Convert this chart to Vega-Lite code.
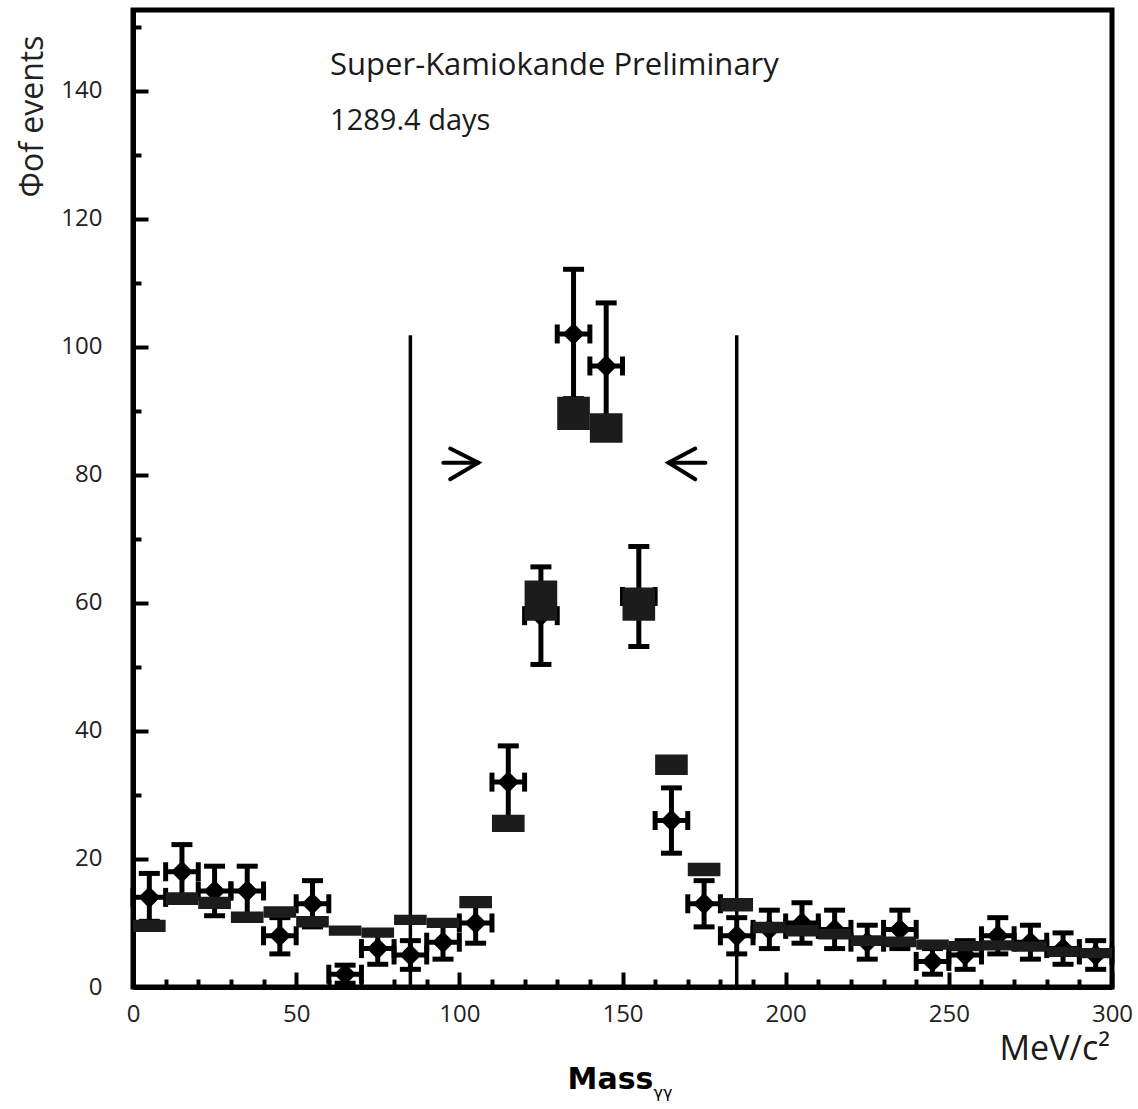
{
  "$schema": "https://vega.github.io/schema/vega-lite/v6.json",
  "width": 979,
  "height": 977,
  "autosize": "none",
  "padding": {"left": 133, "top": 10, "right": 26, "bottom": 122},
  "background": "white",
  "config": {
    "view": {"stroke": "black", "strokeWidth": 5},
    "font": "Open Sans",
    "axis": {"labelOverlap": false, "labelBound": false}
  },
  "datasets": {
    "obs": [
      {"m": 5, "m_lo": 0, "m_hi": 10, "n": 14, "lo": 10.26, "hi": 17.74},
      {"m": 15, "m_lo": 10, "m_hi": 20, "n": 18, "lo": 13.76, "hi": 22.24},
      {"m": 25, "m_lo": 20, "m_hi": 30, "n": 15, "lo": 11.13, "hi": 18.87},
      {"m": 35, "m_lo": 30, "m_hi": 40, "n": 15, "lo": 11.13, "hi": 18.87},
      {"m": 45, "m_lo": 40, "m_hi": 50, "n": 8, "lo": 5.17, "hi": 10.83},
      {"m": 55, "m_lo": 50, "m_hi": 60, "n": 13, "lo": 9.39, "hi": 16.61},
      {"m": 65, "m_lo": 60, "m_hi": 70, "n": 2, "lo": 0.59, "hi": 3.41},
      {"m": 75, "m_lo": 70, "m_hi": 80, "n": 6, "lo": 3.55, "hi": 8.45},
      {"m": 85, "m_lo": 80, "m_hi": 90, "n": 5, "lo": 2.76, "hi": 7.24},
      {"m": 95, "m_lo": 90, "m_hi": 100, "n": 7, "lo": 4.35, "hi": 9.65},
      {"m": 105, "m_lo": 100, "m_hi": 110, "n": 10, "lo": 6.84, "hi": 13.16},
      {"m": 115, "m_lo": 110, "m_hi": 120, "n": 32, "lo": 26.34, "hi": 37.66},
      {"m": 125, "m_lo": 120, "m_hi": 130, "n": 58, "lo": 50.38, "hi": 65.62},
      {"m": 135, "m_lo": 130, "m_hi": 140, "n": 102, "lo": 91.9, "hi": 112.1},
      {"m": 145, "m_lo": 140, "m_hi": 150, "n": 97, "lo": 87.15, "hi": 106.85},
      {"m": 155, "m_lo": 150, "m_hi": 160, "n": 61, "lo": 53.19, "hi": 68.81},
      {"m": 165, "m_lo": 160, "m_hi": 170, "n": 26, "lo": 20.9, "hi": 31.1},
      {"m": 175, "m_lo": 170, "m_hi": 180, "n": 13, "lo": 9.39, "hi": 16.61},
      {"m": 185, "m_lo": 180, "m_hi": 190, "n": 8, "lo": 5.17, "hi": 10.83},
      {"m": 195, "m_lo": 190, "m_hi": 200, "n": 9, "lo": 6, "hi": 12},
      {"m": 205, "m_lo": 200, "m_hi": 210, "n": 10, "lo": 6.84, "hi": 13.16},
      {"m": 215, "m_lo": 210, "m_hi": 220, "n": 9, "lo": 6, "hi": 12},
      {"m": 225, "m_lo": 220, "m_hi": 230, "n": 7, "lo": 4.35, "hi": 9.65},
      {"m": 235, "m_lo": 230, "m_hi": 240, "n": 9, "lo": 6, "hi": 12},
      {"m": 245, "m_lo": 240, "m_hi": 250, "n": 4, "lo": 2, "hi": 6},
      {"m": 255, "m_lo": 250, "m_hi": 260, "n": 5, "lo": 2.76, "hi": 7.24},
      {"m": 265, "m_lo": 260, "m_hi": 270, "n": 8, "lo": 5.17, "hi": 10.83},
      {"m": 275, "m_lo": 270, "m_hi": 280, "n": 7, "lo": 4.35, "hi": 9.65},
      {"m": 285, "m_lo": 280, "m_hi": 290, "n": 6, "lo": 3.55, "hi": 8.45},
      {"m": 295, "m_lo": 290, "m_hi": 300, "n": 5, "lo": 2.76, "hi": 7.24}
    ],
    "mc": [
      {"m_lo": 0, "m_hi": 10, "lo": 8.6, "hi": 10.5},
      {"m_lo": 10, "m_hi": 20, "lo": 12.8, "hi": 14.8},
      {"m_lo": 20, "m_hi": 30, "lo": 12.2, "hi": 14.1},
      {"m_lo": 30, "m_hi": 40, "lo": 10.0, "hi": 11.8},
      {"m_lo": 40, "m_hi": 50, "lo": 10.8, "hi": 12.6},
      {"m_lo": 50, "m_hi": 60, "lo": 9.3, "hi": 11.1},
      {"m_lo": 60, "m_hi": 70, "lo": 8.0, "hi": 9.6},
      {"m_lo": 70, "m_hi": 80, "lo": 7.7, "hi": 9.3},
      {"m_lo": 80, "m_hi": 90, "lo": 9.7, "hi": 11.3},
      {"m_lo": 90, "m_hi": 100, "lo": 9.2, "hi": 10.8},
      {"m_lo": 100, "m_hi": 110, "lo": 12.3, "hi": 14.2},
      {"m_lo": 110, "m_hi": 120, "lo": 24.2, "hi": 26.9},
      {"m_lo": 120, "m_hi": 130, "lo": 57.2, "hi": 63.5},
      {"m_lo": 130, "m_hi": 140, "lo": 87.0, "hi": 92.2},
      {"m_lo": 140, "m_hi": 150, "lo": 85.0, "hi": 89.6},
      {"m_lo": 150, "m_hi": 160, "lo": 57.2, "hi": 62.4},
      {"m_lo": 160, "m_hi": 170, "lo": 33.1, "hi": 36.3},
      {"m_lo": 170, "m_hi": 180, "lo": 17.3, "hi": 19.4},
      {"m_lo": 180, "m_hi": 190, "lo": 11.8, "hi": 13.9},
      {"m_lo": 190, "m_hi": 200, "lo": 8.4, "hi": 10.2},
      {"m_lo": 200, "m_hi": 210, "lo": 7.9, "hi": 9.7},
      {"m_lo": 210, "m_hi": 220, "lo": 7.4, "hi": 9.1},
      {"m_lo": 220, "m_hi": 230, "lo": 6.4, "hi": 8.1},
      {"m_lo": 230, "m_hi": 240, "lo": 6.2, "hi": 7.9},
      {"m_lo": 240, "m_hi": 250, "lo": 5.8, "hi": 7.4},
      {"m_lo": 250, "m_hi": 260, "lo": 5.6, "hi": 7.2},
      {"m_lo": 260, "m_hi": 270, "lo": 5.7, "hi": 7.3},
      {"m_lo": 270, "m_hi": 280, "lo": 5.5, "hi": 7.1},
      {"m_lo": 280, "m_hi": 290, "lo": 4.7, "hi": 6.3},
      {"m_lo": 290, "m_hi": 300, "lo": 4.5, "hi": 6.1}
    ],
    "cuts": [
      {"m": 85, "bottom": 0, "top": 101.8},
      {"m": 185, "bottom": 0, "top": 101.8}
    ],
    "arrows": [
      {"seg": "r_shaft", "o": 1, "m": 95.1, "n": 81.9},
      {"seg": "r_shaft", "o": 2, "m": 105.8, "n": 81.9},
      {"seg": "r_head", "o": 1, "m": 97.2, "n": 84.1},
      {"seg": "r_head", "o": 2, "m": 105.8, "n": 81.9},
      {"seg": "r_head", "o": 3, "m": 97.2, "n": 79.3},
      {"seg": "l_shaft", "o": 1, "m": 164.1, "n": 81.9},
      {"seg": "l_shaft", "o": 2, "m": 175.4, "n": 81.9},
      {"seg": "l_head", "o": 1, "m": 172.3, "n": 84.1},
      {"seg": "l_head", "o": 2, "m": 164.1, "n": 81.9},
      {"seg": "l_head", "o": 3, "m": 172.3, "n": 79.3}
    ],
    "minor": [
      {"m": 10}, {"m": 20}, {"m": 30}, {"m": 40}, {"m": 60}, {"m": 70}, {"m": 80}, {"m": 90},
      {"m": 110}, {"m": 120}, {"m": 130}, {"m": 140}, {"m": 160}, {"m": 170}, {"m": 180}, {"m": 190},
      {"m": 210}, {"m": 220}, {"m": 230}, {"m": 240}, {"m": 260}, {"m": 270}, {"m": 280}, {"m": 290}
    ]
  },
  "layer": [
    {
      "layer": [
        {
          "data": {"name": "cuts"},
          "mark": {"type": "rule", "color": "black", "strokeWidth": 3.5},
          "encoding": {
            "x": {
              "field": "m", "type": "quantitative",
              "scale": {"domain": [0, 300], "nice": false, "zero": false},
              "axis": {
                "title": "Mass",
                "values": [0, 50, 100, 150, 200, 250, 300],
                "tickSize": -15,
                "tickWidth": 4,
                "tickColor": "black",
                "domainColor": "black",
                "domainWidth": 5,
                "grid": false,
                "labelFont": "Open Sans",
                "labelFontSize": 24,
                "labelColor": "#222222",
                "labelFlush": false,
                "labelOverlap": false,
                "labelBaseline": "alphabetic",
                "labelPadding": 49,
                "titleFont": "DejaVu Sans",
                "titleFontWeight": "bold",
                "titleFontSize": 30,
                "titleColor": "black",
                "titleAlign": "center",
                "titleBaseline": "alphabetic",
                "titleX": 477,
                "titleY": 101
              }
            },
            "y": {
              "field": "bottom", "type": "quantitative",
              "scale": {"domain": [0, 152.6], "nice": false, "zero": false},
              "axis": {
                "title": "Φof events",
                "values": [0,5,10,15,20,25,30,35,40,45,50,55,60,65,70,75,80,85,90,95,100,105,110,115,120,125,130,135,140,145,150],
                "labelExpr": "datum.value % 20 === 0 ? datum.label : ''",
                "tickSize": {"condition": {"test": "datum.value % 20 === 0", "value": -15}, "value": -8},
                "tickWidth": 4,
                "tickColor": "black",
                "domainColor": "black",
                "domainWidth": 5,
                "grid": false,
                "labelFont": "Open Sans",
                "labelFontSize": 24,
                "labelColor": "#222222",
                "labelOverlap": false,
                "labelPadding": 46,
                "titleFont": "Open Sans",
                "titleFontWeight": "normal",
                "titleFontSize": 32,
                "titleColor": "#222222",
                "titleAngle": 270,
                "titleAlign": "right",
                "titleBaseline": "middle",
                "titleX": -101,
                "titleY": 25
              }
            },
            "y2": {"field": "top"}
          }
        },
        {
          "data": {"name": "arrows"},
          "mark": {"type": "line", "color": "black", "strokeWidth": 4, "strokeCap": "round", "strokeJoin": "miter"},
          "encoding": {
            "x": {"field": "m", "type": "quantitative"},
            "y": {"field": "n", "type": "quantitative"},
            "detail": {"field": "seg"},
            "order": {"field": "o", "type": "quantitative"}
          }
        },
        {
          "data": {"name": "obs"},
          "mark": {"type": "rule", "color": "black", "strokeWidth": 5},
          "encoding": {
            "x": {"field": "m", "type": "quantitative"},
            "y": {"field": "lo", "type": "quantitative"},
            "y2": {"field": "hi"}
          }
        },
        {
          "data": {"name": "obs"},
          "mark": {"type": "rule", "color": "black", "strokeWidth": 5},
          "encoding": {
            "x": {"field": "m_lo", "type": "quantitative"},
            "x2": {"field": "m_hi"},
            "y": {"field": "n", "type": "quantitative"}
          }
        },
        {
          "data": {"name": "obs"},
          "mark": {"type": "tick", "orient": "horizontal", "color": "black", "size": 21, "thickness": 5, "opacity": 1},
          "encoding": {
            "x": {"field": "m", "type": "quantitative"},
            "y": {"field": "lo", "type": "quantitative"}
          }
        },
        {
          "data": {"name": "obs"},
          "mark": {"type": "tick", "orient": "horizontal", "color": "black", "size": 21, "thickness": 5, "opacity": 1},
          "encoding": {
            "x": {"field": "m", "type": "quantitative"},
            "y": {"field": "hi", "type": "quantitative"}
          }
        },
        {
          "data": {"name": "obs"},
          "mark": {"type": "tick", "orient": "vertical", "color": "black", "size": 19, "thickness": 5, "opacity": 1},
          "encoding": {
            "x": {"field": "m_lo", "type": "quantitative"},
            "y": {"field": "n", "type": "quantitative"}
          }
        },
        {
          "data": {"name": "obs"},
          "mark": {"type": "tick", "orient": "vertical", "color": "black", "size": 19, "thickness": 5, "opacity": 1},
          "encoding": {
            "x": {"field": "m_hi", "type": "quantitative"},
            "y": {"field": "n", "type": "quantitative"}
          }
        },
        {
          "data": {"name": "obs"},
          "mark": {"type": "point", "shape": "diamond", "filled": true, "color": "black", "size": 480, "opacity": 1},
          "encoding": {
            "x": {"field": "m", "type": "quantitative"},
            "y": {"field": "n", "type": "quantitative"}
          }
        },
        {
          "data": {"name": "mc"},
          "mark": {"type": "rect", "color": "#1c1c1c", "opacity": 1},
          "encoding": {
            "x": {"field": "m_lo", "type": "quantitative"},
            "x2": {"field": "m_hi"},
            "y": {"field": "lo", "type": "quantitative"},
            "y2": {"field": "hi"}
          }
        },
        {
          "data": {"values": [{"m": 60.4, "n": 142.5, "t": "Super-Kamiokande Preliminary"}]},
          "mark": {"type": "text", "align": "left", "baseline": "alphabetic", "font": "Open Sans", "fontSize": 31, "color": "#1a1a1a"},
          "encoding": {
            "x": {"field": "m", "type": "quantitative"},
            "y": {"field": "n", "type": "quantitative"},
            "text": {"field": "t"}
          }
        },
        {
          "data": {"values": [{"m": 60.4, "n": 133.8, "t": "1289.4 days"}]},
          "mark": {"type": "text", "align": "left", "baseline": "alphabetic", "font": "Open Sans", "fontSize": 29, "color": "#1a1a1a"},
          "encoding": {
            "x": {"field": "m", "type": "quantitative"},
            "y": {"field": "n", "type": "quantitative"},
            "text": {"field": "t"}
          }
        },
        {
          "data": {"values": [{"m": 299.4, "n": -11.4, "t": "MeV/c²"}]},
          "mark": {"type": "text", "align": "right", "baseline": "alphabetic", "font": "Open Sans", "fontSize": 34, "color": "#1a1a1a"},
          "encoding": {
            "x": {"field": "m", "type": "quantitative"},
            "y": {"field": "n", "type": "quantitative"},
            "text": {"field": "t"}
          }
        },
        {
          "data": {"values": [{"m": 159.5, "n": -17.3, "t": "γγ"}]},
          "mark": {"type": "text", "align": "left", "baseline": "alphabetic", "font": "DejaVu Sans", "fontSize": 16, "color": "black"},
          "encoding": {
            "x": {"field": "m", "type": "quantitative"},
            "y": {"field": "n", "type": "quantitative"},
            "text": {"field": "t"}
          }
        }
      ]
    },
    {
      "data": {"name": "minor"},
      "mark": {"type": "rule", "opacity": 0},
      "encoding": {
        "x": {
          "field": "m", "type": "quantitative",
          "axis": {
            "orient": "bottom",
            "title": null,
            "values": [10,20,30,40,60,70,80,90,110,120,130,140,160,170,180,190,210,220,230,240,260,270,280,290],
            "labels": false,
            "domain": false,
            "grid": false,
            "tickSize": -8,
            "tickWidth": 4,
            "tickColor": "black"
          }
        }
      }
    }
  ],
  "resolve": {"axis": {"x": "independent"}}
}
